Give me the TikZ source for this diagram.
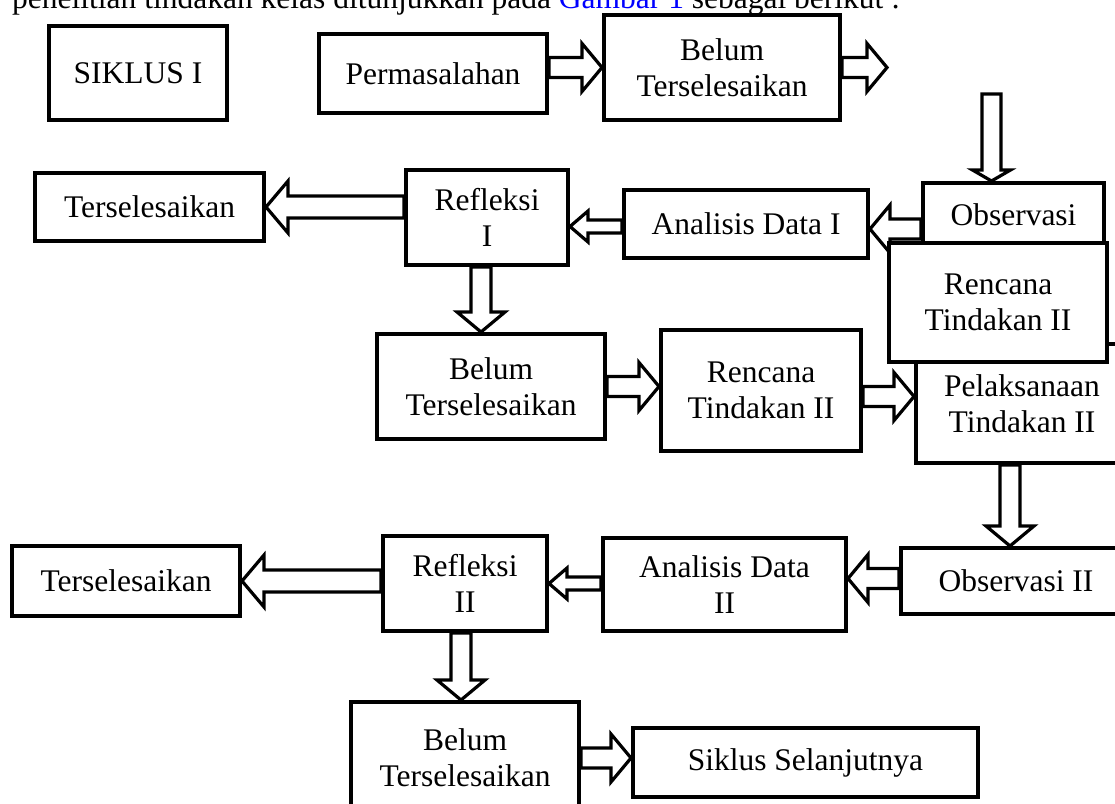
\documentclass[tikz,border=0pt]{standalone}
\usepackage{fontspec}
\setmainfont{Liberation Serif}
\usepackage{tikz}
\usetikzlibrary{calc}

\newcommand{\hurufkotak}{\fontsize{31.5}{36}\selectfont}
\tikzset{blk sw/.store in=\blksw, blk hw/.store in=\blkhw, blk hl/.store in=\blkhl}

\begin{document}
\begin{tikzpicture}[
    x=1pt, y=-1pt,
    kotak/.style={draw, line width=4pt, fill=white, inner sep=0pt, align=center, font=\hurufkotak},
    panah/.style={draw, line width=3.2pt, fill=white, line join=miter, blk sw=10pt, blk hw=24pt, blk hl=20pt},
    besar/.style={blk sw=11pt, blk hw=26pt, blk hl=22pt},
    kecil/.style={blk sw=6.5pt, blk hw=15.5pt, blk hl=18pt},
    pendek/.style={blk sw=9.5pt, blk hw=19pt, blk hl=11pt},
    arrR/.style={panah, to path={let \p1=(\tikztostart), \p2=(\tikztotarget) in
        (\x1,{\y2+\blksw}) -- ({\x2-\blkhl},{\y2+\blksw}) -- ({\x2-\blkhl},{\y2+\blkhw}) -- (\x2,\y2)
        -- ({\x2-\blkhl},{\y2-\blkhw}) -- ({\x2-\blkhl},{\y2-\blksw}) -- (\x1,{\y2-\blksw}) -- cycle}},
    arrL/.style={panah, to path={let \p1=(\tikztostart), \p2=(\tikztotarget) in
        (\x1,{\y2+\blksw}) -- ({\x2+\blkhl},{\y2+\blksw}) -- ({\x2+\blkhl},{\y2+\blkhw}) -- (\x2,\y2)
        -- ({\x2+\blkhl},{\y2-\blkhw}) -- ({\x2+\blkhl},{\y2-\blksw}) -- (\x1,{\y2-\blksw}) -- cycle}},
    arrD/.style={panah, to path={let \p1=(\tikztostart), \p2=(\tikztotarget) in
        ({\x1-\blksw},\y1) -- ({\x1-\blksw},{\y2+\blkhl}) -- ({\x1-\blkhw},{\y2+\blkhl}) -- (\x1,\y2)
        -- ({\x1+\blkhw},{\y2+\blkhl}) -- ({\x1+\blksw},{\y2+\blkhl}) -- ({\x1+\blksw},\y1) -- cycle}},
]
\useasboundingbox (0,0) rectangle (1115,803);
\clip (0,0) rectangle (1115,803);

% Text above the figure
\node[font=\hurufkotak, anchor=base west, inner sep=0pt] (pengantar) at (12,9)
    {penelitian tindakan kelas ditunjukkan pada \textcolor{blue}{Gambar 1} sebagai berikut :};

% Row 1: start
\node[kotak, minimum width=178pt, minimum height=94pt] (siklus) at (138,73) {SIKLUS I};
\node[kotak, minimum width=228pt, minimum height=79pt] (masalah) at (433,73.5) {Permasalahan};
\node[kotak, minimum width=236pt, minimum height=105pt] (belum1) at (722,67.5) {Belum\\Terselesaikan};
\coordinate (keluar) at (887,67.5);
\coordinate (masuk) at (991.5,94);

% Row 2: cycle I
\node[kotak, minimum width=181pt, minimum height=64pt] (obs1) at (1013.5,215) {Observasi};
\node[kotak, minimum width=244pt, minimum height=68pt] (ana1) at (746,224) {Analisis Data I};
\node[kotak, minimum width=162pt, minimum height=95pt] (ref1) at (487,217.5) {Refleksi\\I};
\node[kotak, minimum width=229pt, minimum height=68pt] (sel1) at (149.5,207) {Terselesaikan};

% Row 3: to cycle II
\node[kotak, minimum width=228pt, minimum height=105pt] (belum2) at (491,386.5) {Belum\\Terselesaikan};
\node[kotak, minimum width=200pt, minimum height=121pt] (rencana2) at (761,390.5) {Rencana\\Tindakan II};
\node[kotak, minimum width=212pt, minimum height=119pt] (laksana) at (1022,403.5) {Pelaksanaan\\Tindakan II};

% Row 4: cycle II
\node[kotak, minimum width=230pt, minimum height=66pt] (obs2) at (1016,581) {Observasi II};
\node[kotak, minimum width=243pt, minimum height=93pt] (ana2) at (724.5,584.5) {Analisis Data\\II};
\node[kotak, minimum width=164pt, minimum height=95pt] (ref2) at (465,583.5) {Refleksi\\II};
\node[kotak, minimum width=228pt, minimum height=70pt] (sel2) at (126,581) {Terselesaikan};

% Row 5: end
\node[kotak, minimum width=228pt, minimum height=111pt] (belum3) at (465,757.5) {Belum\\Terselesaikan};
\node[kotak, minimum width=345pt, minimum height=69pt] (lanjut) at (805.5,762.5) {Siklus Selanjutnya};

% === ARROWS ===
% Row 1
\draw[arrR] (masalah.east) to (belum1.west);
\draw[arrR] (belum1.east) to (keluar);
\draw[arrD, pendek] (masuk) to (obs1.north);

% Row 2
\draw[arrL] (obs1.west) to ([yshift=-5]ana1.east);
\draw[arrL, kecil] (ana1.west) to ([yshift=-9]ref1.east);
\draw[arrL, besar] (ref1.west) to (sel1.east);
\draw[arrD] ([xshift=-6]ref1.south) to (belum2.north);

% Row 3
\draw[arrR] (belum2.east) to ([yshift=4]rencana2.west);
\draw[arrR] (rencana2.east) to ([yshift=7]laksana.west);
\draw[arrD] ([xshift=-12]laksana.south) to (obs2.north);

% Row 4
\draw[arrL] (obs2.west) to ([yshift=6]ana2.east);
\draw[arrL, kecil] (ana2.west) to (ref2.east);
\draw[arrL, besar] (ref2.west) to (sel2.east);
\draw[arrD] ([xshift=-4]ref2.south) to (belum3.north);

% Row 5
\draw[arrR] (belum3.east) to ([yshift=4.5]lanjut.west);

% box lying over Observasi and Pelaksanaan
\node[kotak, minimum width=218pt, minimum height=119pt] (rencana1) at (998,302.5) {Rencana\\Tindakan II};

\end{tikzpicture}
\end{document}
